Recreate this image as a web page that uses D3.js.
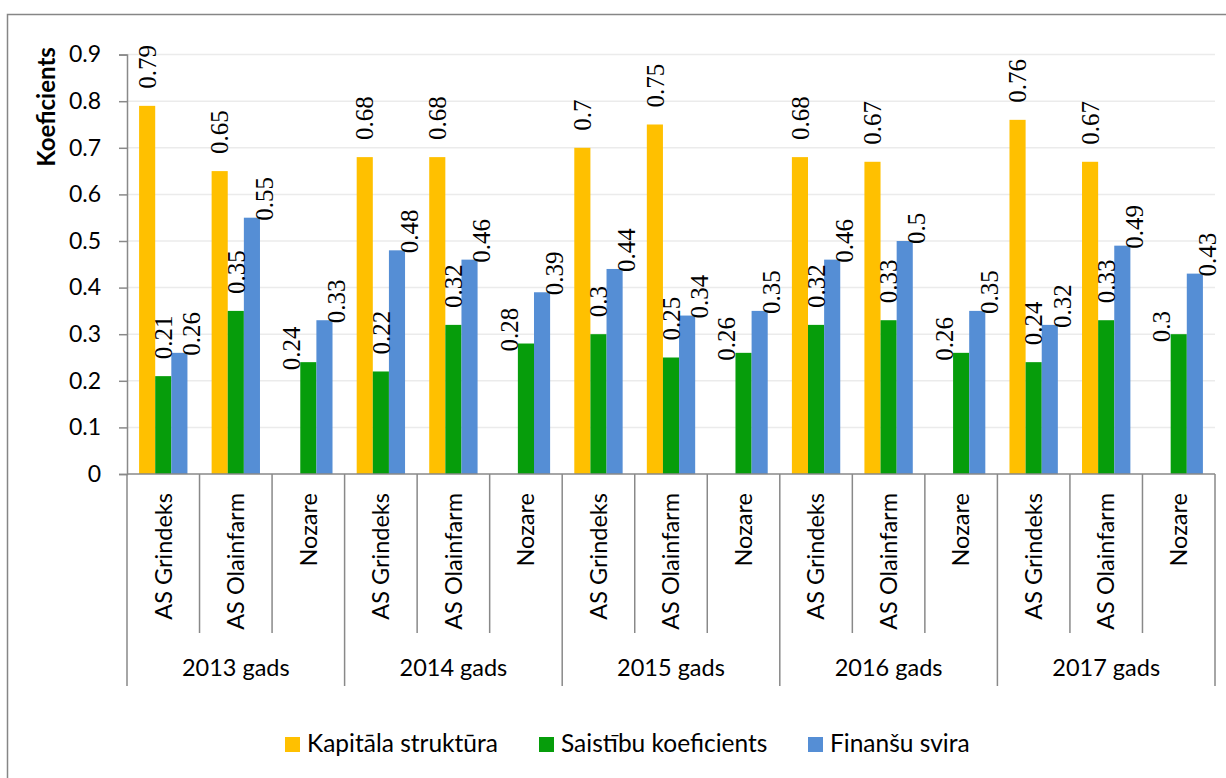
<!DOCTYPE html>
<meta charset="utf-8">
<script src="https://d3js.org/d3.v7.min.js" charset="utf-8"></script>
<style>
  body { margin: 0; background: #fff; }
</style>
<body>
<div id="draw"></div>
</body>
<script>

  var years = ["2013 gads", "2014 gads", "2015 gads", "2016 gads", "2017 gads"];
  var companies = ["AS Grindeks", "AS Olainfarm", "Nozare"];
  var seriesNames = ["Kapitāla struktūra", "Saistību koeficients", "Finanšu svira"];
  // per year: Grindeks, Olainfarm, Nozare (null = no bar)
  var kapitalaStruktura = [0.79, 0.65, null, 0.68, 0.68, null, 0.7, 0.75, null, 0.68, 0.67, null, 0.76, 0.67, null];
  var saistibuKoef = [0.21, 0.35, 0.24, 0.22, 0.32, 0.28, 0.3, 0.25, 0.26, 0.32, 0.33, 0.26, 0.24, 0.33, 0.3];
  var finansuSvira = [0.26, 0.55, 0.33, 0.48, 0.46, 0.39, 0.44, 0.34, 0.35, 0.46, 0.5, 0.35, 0.32, 0.49, 0.43];
  var yTicks = [0, 0.1, 0.2, 0.3, 0.4, 0.5, 0.6, 0.7, 0.8, 0.9];
  var colors = ["#FFC000", "#069D0B", "#558ED5"];

  var width = 1226;
  var height = 778;
  var plot = {left: 127, right: 1215, top: 54.6, bottom: 474};
  var sans = "Lato, 'Open Sans', sans-serif";

  var svg = d3.select("#draw")
    .append("svg")
    .attr("width", width)
    .attr("height", height)
    .style("display", "block");

  // outer frame
  svg.append("rect")
    .attr("x", 7.5).attr("y", 14.5)
    .attr("width", 1230).attr("height", 780)
    .attr("fill", "none")
    .attr("stroke", "#868686")
    .attr("stroke-width", 1.5);

  var categories = [];
  years.forEach(function(y, yi) {
    companies.forEach(function(c, ci) {
      categories.push({year: y, company: c, key: yi + "-" + ci});
    });
  });

  var x = d3.scaleBand()
    .domain(categories.map(function(d){ return d.key; }))
    .range([plot.left, plot.right])
    .padding(0);

  var xs = d3.scaleBand()
    .domain([0, 1, 2])
    .range([0, x.bandwidth()])
    .paddingInner(0)
    .paddingOuter(0.75);

  var y = d3.scaleLinear()
    .domain([0, 0.9])
    .range([plot.bottom, plot.top]);

  // gridlines
  svg.append("g").selectAll("line")
    .data(yTicks.slice(1))
    .enter().append("line")
    .attr("x1", plot.left).attr("x2", plot.right)
    .attr("y1", function(d){ return y(d); })
    .attr("y2", function(d){ return y(d); })
    .attr("stroke", "#ebebeb")
    .attr("stroke-width", 1.5);

  // y axis
  var yAxis = svg.append("g")
    .attr("transform", "translate(" + plot.left + ",0)")
    .call(d3.axisLeft(y).tickValues(yTicks).tickSize(8).tickPadding(18)
      .tickFormat(function(d){ return String(+d.toFixed(1)); }));
  yAxis.select(".domain").attr("stroke", "#898989").attr("stroke-width", 1.5);
  yAxis.selectAll(".tick line").attr("stroke", "#898989").attr("stroke-width", 1.5);
  yAxis.selectAll(".tick text")
    .attr("fill", "#000")
    .style("font-family", sans)
    .style("font-size", "23px");

  svg.append("text")
    .attr("transform", "translate(55,107) rotate(-90)")
    .attr("text-anchor", "middle")
    .style("font-family", sans)
    .style("font-size", "24px")
    .style("font-weight", "bold")
    .text("Koeficients");

  // bars
  var series = [kapitalaStruktura, saistibuKoef, finansuSvira];
  var barData = [];
  series.forEach(function(vals, si) {
    vals.forEach(function(v, i) {
      if (v === null) return;
      barData.push({s: si, cat: categories[i].key, value: v, i: i});
    });
  });

  svg.append("g").selectAll("rect")
    .data(barData)
    .enter().append("rect")
    .attr("x", function(d){ return x(d.cat) + xs(d.s); })
    .attr("width", xs.bandwidth())
    .attr("y", function(d){ return y(d.value); })
    .attr("height", function(d){ return y(0) - y(d.value); })
    .attr("fill", function(d){ return colors[d.s]; });

  // data labels, rotated; blue sits beside its bar, green moves left when there is no yellow bar
  svg.append("g").selectAll("text")
    .data(barData)
    .enter().append("text")
    .attr("transform", function(d) {
      var cx = x(d.cat) + xs(d.s) + xs.bandwidth() / 2;
      var top = y(d.value);
      var py = top - 17;
      if (d.s === 2) { cx += 12; py = top + 3; }
      else if (d.s === 1 && kapitalaStruktura[d.i] === null) { cx -= 17; py = top + 8; }
      return "translate(" + cx + "," + py + ") rotate(-90)";
    })
    .attr("dy", "0.35em")
    .attr("text-anchor", "start")
    .style("font-family", "'Liberation Serif', 'Times New Roman', serif")
    .style("font-size", "25px")
    .text(function(d){ return String(d.value); });

  // x axis: baseline, category separators, year separators
  var axisColor = "#898989";
  var catBottom = 633;
  var yearBottom = 686;
  svg.append("line")
    .attr("x1", plot.left).attr("x2", plot.right)
    .attr("y1", plot.bottom).attr("y2", plot.bottom)
    .attr("stroke", axisColor).attr("stroke-width", 1.5);

  svg.append("g").selectAll("line")
    .data(categories)
    .enter().append("line")
    .attr("x1", function(d){ return x(d.key); })
    .attr("x2", function(d){ return x(d.key); })
    .attr("y1", plot.bottom)
    .attr("y2", function(d, i){ return i % 3 === 0 ? yearBottom : catBottom; })
    .attr("stroke", axisColor).attr("stroke-width", 1.5);

  svg.append("line")
    .attr("x1", plot.right).attr("x2", plot.right)
    .attr("y1", plot.bottom).attr("y2", yearBottom)
    .attr("stroke", axisColor).attr("stroke-width", 1.5);

  svg.append("g").selectAll("text")
    .data(categories)
    .enter().append("text")
    .attr("transform", function(d) {
      return "translate(" + (x(d.key) + x.bandwidth() / 2) + "," + (plot.bottom + 19) + ") rotate(-90)";
    })
    .attr("dy", "0.35em")
    .attr("text-anchor", "end")
    .style("font-family", sans)
    .style("font-size", "23.5px")
    .text(function(d){ return d.company; });

  svg.append("g").selectAll("text")
    .data(years)
    .enter().append("text")
    .attr("x", function(d, i){ return x(i + "-0") + x.bandwidth() * 1.5; })
    .attr("y", 676)
    .attr("text-anchor", "middle")
    .style("font-family", sans)
    .style("font-size", "23.5px")
    .text(function(d){ return d; });

  // legend
  var legendX = [285, 539, 808];
  var legend = svg.append("g").selectAll("g")
    .data(seriesNames)
    .enter().append("g")
    .attr("transform", function(d, i){ return "translate(" + legendX[i] + ",737)"; });
  legend.append("rect")
    .attr("width", 15).attr("height", 15)
    .attr("fill", function(d, i){ return colors[i]; });
  legend.append("text")
    .attr("x", 22).attr("y", 15)
    .style("font-family", sans)
    .style("font-size", "24.5px")
    .text(function(d){ return d; });

</script>
